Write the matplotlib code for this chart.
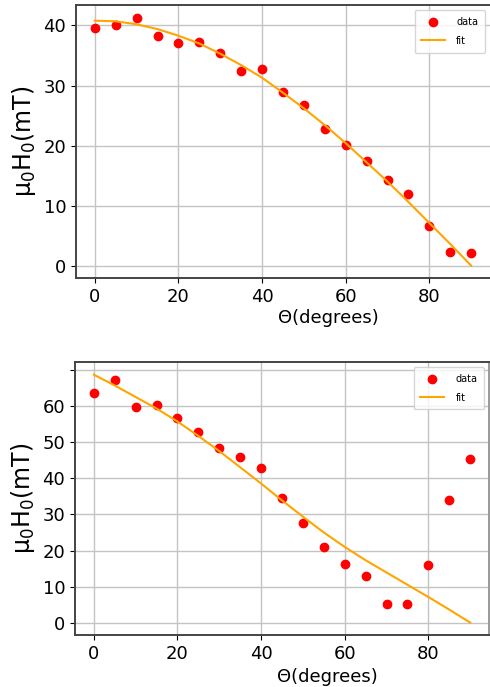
import matplotlib
matplotlib.use('Agg')
import matplotlib.pyplot as plt

# 角度（度）
theta = [0, 5, 10, 15, 20, 25, 30, 35, 40, 45, 50, 55, 60, 65, 70, 75, 80, 85, 90]

# 上图：数据与拟合
h_top = [39.6, 40.0, 41.3, 38.2, 37.1, 37.3, 35.4, 32.5, 32.8, 29.0, 26.7,
         22.7, 20.1, 17.5, 14.3, 11.9, 6.6, 2.3, 2.1]
fit_top = [40.8, 40.7, 40.2, 39.4, 38.3, 37.0, 35.3, 33.4, 31.3, 28.8, 26.2,
           23.4, 20.4, 17.2, 14.0, 10.6, 7.1, 3.6, 0.0]

# 下图：数据与拟合
h_bot = [63.7, 67.2, 59.9, 60.3, 56.8, 53.0, 48.5, 46.0, 42.9, 34.7, 27.7,
         21.1, 16.3, 12.8, 5.2, 5.2, 15.9, 33.9, 45.4]
fit_bot = [68.8, 65.8, 62.6, 59.4, 55.8, 51.8, 47.6, 43.1, 38.6, 33.9, 29.4,
           25.0, 21.0, 17.3, 13.9, 10.5, 7.1, 3.6, 0.0]

fig = plt.figure(figsize=(4.9, 6.87), dpi=100)
图1 = fig.add_axes([0.155, 0.5953, 0.845, 0.397])
图2 = fig.add_axes([0.153, 0.0757, 0.845, 0.397])

for 图, h, fit, yt in [(图1, h_top, fit_top, [0, 10, 20, 30, 40]),
                       (图2, h_bot, fit_bot, [0, 10, 20, 30, 40, 50, 60, 70])]:
    图.plot(theta, h, 'o', color='red', ms=6, label='data')
    图.plot(theta, fit, color='orange', lw=1.5, label='fit')
    图.set_yticks(yt)
    labels = [str(v) for v in yt]
    if yt[-1] == 70:
        labels[-1] = ''
    图.set_yticklabels(labels)
    图.set_xticks([0, 20, 40, 60, 80])
    图.tick_params(labelsize=13)
    图.grid(True, color='#c4c4c4', lw=1)
    for s in 图.spines.values():
        s.set_color('#444444')
        s.set_linewidth(1.4)
    图.set_ylabel('μ$_0$H$_0$(mT)', fontsize=17)
    图.set_xlabel('Θ(degrees)', fontsize=13)
    图.legend(loc='upper right', fontsize=7, labelspacing=0.9,
              handlelength=2.4, borderpad=0.7, handletextpad=1.2)

# 上图右边框被截掉
图1.spines['right'].set_visible(False)
图2.spines['right'].set_color('#999999')

图1.xaxis.set_label_coords(0.61, -0.115)
图2.xaxis.set_label_coords(0.61, -0.12)

fig.savefig('out.png', dpi=100)
